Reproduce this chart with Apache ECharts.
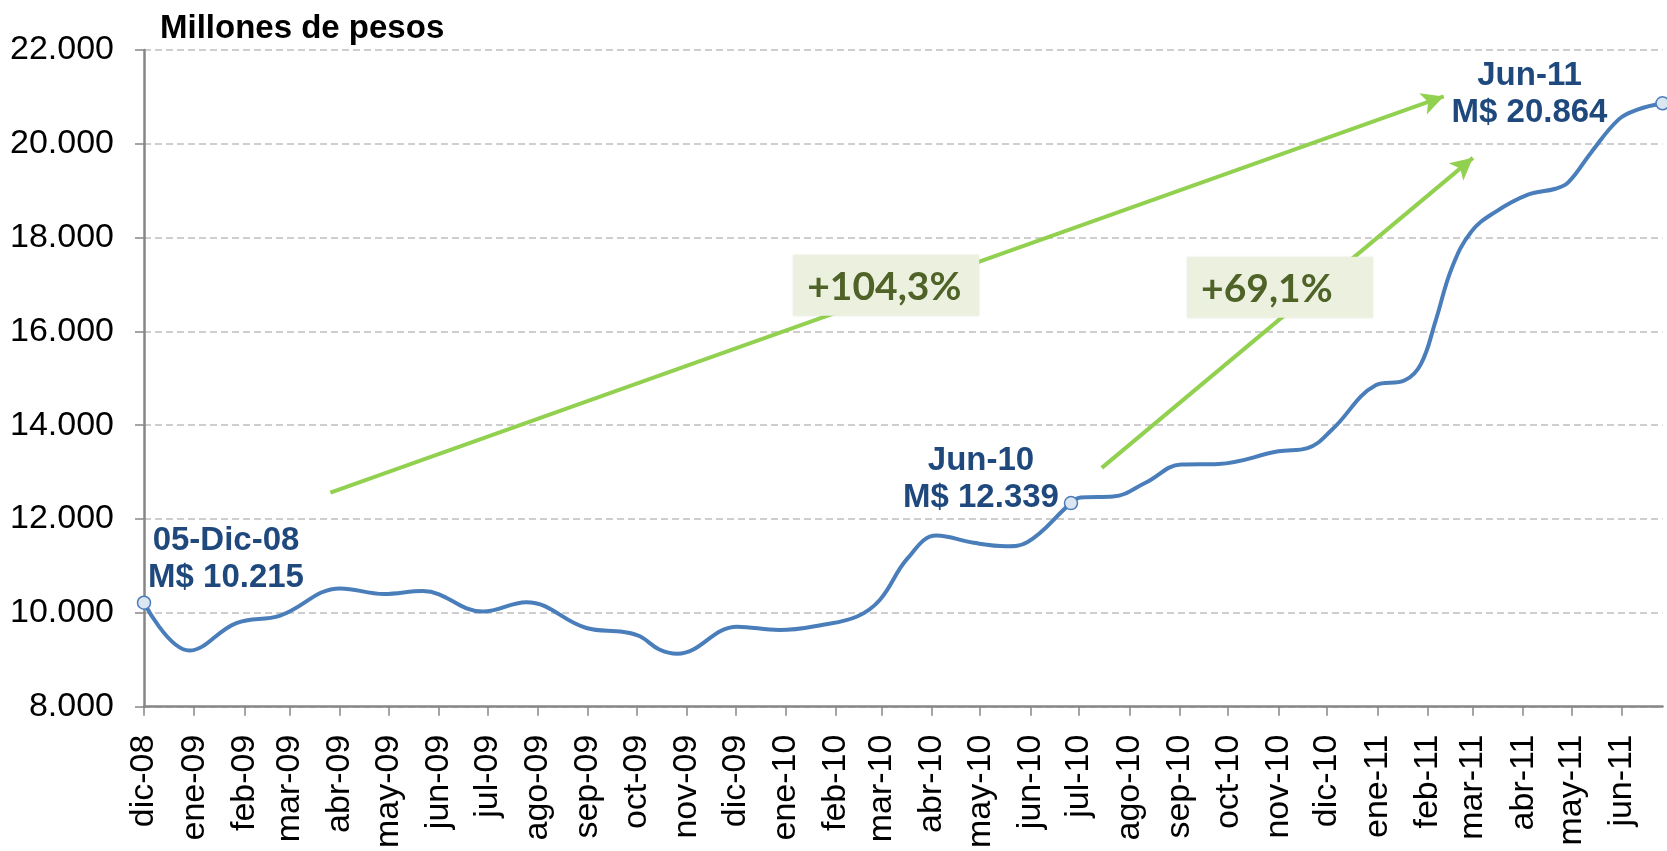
<!DOCTYPE html>
<html>
<head>
<meta charset="utf-8">
<script src="https://cdn.jsdelivr.net/npm/echarts@6/dist/echarts.min.js"></script>
<style>
  html, body { margin: 0; padding: 0; background: #fff; }
  #chart { width: 1667px; height: 851px; }
</style>
</head>
<body>
<div id="chart"></div>
<script>
// --- datos ---
var fechas = [
  '2008-12-05', '2009-01-02', '2009-01-31', '2009-02-27', '2009-04-05', '2009-05-02',
  '2009-05-26', '2009-07-02', '2009-07-29', '2009-09-04', '2009-09-27', '2009-10-07',
  '2009-10-19', '2009-10-30', '2009-12-06', '2010-01-01', '2010-01-28', '2010-02-18',
  '2010-03-04', '2010-03-21', '2010-04-08', '2010-05-01', '2010-05-21', '2010-06-03',
  '2010-06-30', '2010-07-06', '2010-07-26', '2010-08-15', '2010-09-06', '2010-09-29',
  '2010-11-05', '2010-11-23', '2010-12-08', '2011-01-04', '2011-01-22', '2011-02-01',
  '2011-02-10', '2011-02-20', '2011-03-04', '2011-03-19', '2011-04-08', '2011-04-25',
  '2011-05-03', '2011-05-17', '2011-06-03', '2011-06-15', '2011-06-30'
];
var valores = [
  10215, 9196, 9782, 9942, 10521, 10401,
  10464, 10027, 10225, 9676, 9591, 9499,
  9218, 9127, 9704, 9633, 9746, 9922,
  10274, 11155, 11647, 11493, 11421, 11506,
  12339, 12457, 12478, 12774, 13162, 13175,
  13443, 13513, 13902, 14852, 14958, 15309,
  16226, 17352, 18127, 18550, 18915, 19042,
  19183, 19817, 20521, 20733, 20864
];

// puntos destacados (indice en las series) y sus etiquetas
var hitos = [0, 24, 46];
var hitosNombre = ['05-Dic-08', 'Jun-10', 'Jun-11'];

// marcas del eje x (5 de cada mes)
var tickFechas = [
  '2008-12-05', '2009-01-05', '2009-02-05', '2009-03-05', '2009-04-05', '2009-05-05',
  '2009-06-05', '2009-07-05', '2009-08-05', '2009-09-05', '2009-10-05', '2009-11-05',
  '2009-12-05', '2010-01-05', '2010-02-05', '2010-03-05', '2010-04-05', '2010-05-05',
  '2010-06-05', '2010-07-05', '2010-08-05', '2010-09-05', '2010-10-05', '2010-11-05',
  '2010-12-05', '2011-01-05', '2011-02-05', '2011-03-05', '2011-04-05', '2011-05-05',
  '2011-06-05'
];
var tickEtiquetas = [
  'dic-08', 'ene-09', 'feb-09', 'mar-09', 'abr-09', 'may-09',
  'jun-09', 'jul-09', 'ago-09', 'sep-09', 'oct-09', 'nov-09',
  'dic-09', 'ene-10', 'feb-10', 'mar-10', 'abr-10', 'may-10',
  'jun-10', 'jul-10', 'ago-10', 'sep-10', 'oct-10', 'nov-10',
  'dic-10', 'ene-11', 'feb-11', 'mar-11', 'abr-11', 'may-11',
  'jun-11'
];

// flechas de variacion: [inicio, fin] en fecha / valor
var flechas = [
  [['2009-03-30', 12562], ['2011-02-15', 21010]],
  [['2010-07-19', 13090], ['2011-03-05', 19700]]
];
// cajas de porcentaje: centro en fecha / valor
var cajasTexto = ['+104,3%', '+69,1%'];
var cajasPos = [['2010-03-08', 16982], ['2010-11-06', 16940]];

(function() {
  // eje x en dias contados desde la primera fecha
  var DIA = 86400000;
  function utc(s) {
    var p = s.split('-');
    return Date.UTC(+p[0], +p[1] - 1, +p[2]);
  }
  var t0 = utc(fechas[0]);
  function dia(s) { return Math.round((utc(s) - t0) / DIA); }
  function miles(v) {
    return String(v).replace(/\B(?=(\d{3})+(?!\d))/g, '.');
  }

  var font = "'Liberation Sans', Arial, sans-serif";
  var azul = '#4A7EBB';
  var azulTexto = '#1F497D';
  var verde = '#92D050';
  var gris = '#868686';

  var tickDias = tickFechas.map(dia);
  var serie = fechas.map(function(f, i) { return [dia(f), valores[i]]; });

  var labelOffsets = [[82, -43], [-90, -24], [-133, -9]];
  var puntos = hitos.map(function(idx, k) {
    return {
      value: serie[idx],
      name: hitosNombre[k],
      label: { offset: labelOffsets[k] }
    };
  });

  var chart = echarts.init(document.getElementById('chart'), null, { renderer: 'canvas' });
  chart.setOption({
    animation: false,
    title: {
      text: 'Millones de pesos',
      left: 160, top: 12, padding: 0,
      textStyle: { fontFamily: font, fontSize: 33, fontWeight: 'bold', color: '#000' }
    },
    grid: { left: 144, right: 4.5, top: 50, bottom: 138.4 },
    xAxis: {
      type: 'value',
      min: 0,
      max: dia('2011-06-30'),
      axisLine: { onZero: false, lineStyle: { color: gris, width: 2.5 } },
      axisTick: { show: true, length: 9, lineStyle: { color: gris, width: 1.5 }, customValues: tickDias },
      splitLine: { show: false },
      axisLabel: {
        rotate: 90,
        margin: 28,
        fontFamily: font,
        fontSize: 34,
        color: '#000',
        customValues: tickDias,
        hideOverlap: false,
        formatter: function(v) {
          var i = tickDias.indexOf(Math.round(v));
          return i >= 0 ? tickEtiquetas[i] : '';
        }
      }
    },
    yAxis: {
      type: 'value',
      min: 8000, max: 22000, interval: 2000,
      axisLine: { show: true, lineStyle: { color: gris, width: 2.5 } },
      axisTick: { show: true, length: 9, lineStyle: { color: gris, width: 1.5 } },
      splitLine: { lineStyle: { color: '#BFBFBF', type: [7, 4], width: 1.5 } },
      axisLabel: { margin: 30, fontFamily: font, fontSize: 34, color: '#000', formatter: miles }
    },
    series: [
      {
        name: 'Patrimonio',
        type: 'line',
        data: serie,
        smooth: 0.4,
        showSymbol: false,
        z: 2,
        lineStyle: { color: azul, width: 4 },
        markLine: {
          z: 3,
          silent: true,
          symbol: ['none', 'arrow'],
          symbolSize: [17, 22],
          label: { show: false },
          lineStyle: { color: verde, width: 4, type: 'solid' },
          emphasis: { disabled: true },
          data: flechas.map(function(f) {
            return [{ coord: [dia(f[0][0]), f[0][1]] }, { coord: [dia(f[1][0]), f[1][1]] }];
          })
        },
        markPoint: {
          z: 4,
          silent: true,
          symbol: 'rect',
          symbolSize: [186, 61],
          itemStyle: { color: '#EBF1DE', shadowColor: 'rgba(0,0,0,0.12)', shadowBlur: 3 },
          label: {
            show: true,
            position: 'inside',
            align: 'left',
            offset: [-79, 2],
            formatter: '{b}',
            fontFamily: "Lato, 'Open Sans', sans-serif",
            fontWeight: 'bold',
            fontSize: 39,
            color: '#4F6228'
          },
          data: cajasPos.map(function(p, i) {
            return { name: cajasTexto[i], coord: [dia(p[0]), p[1]] };
          })
        }
      },
      {
        name: 'Hitos',
        type: 'scatter',
        data: puntos,
        z: 5,
        symbol: 'circle',
        symbolSize: 13,
        itemStyle: { color: '#DCE6F2', borderColor: azul, borderWidth: 1.5, opacity: 1 },
        label: {
          show: true,
          position: 'inside',
          align: 'center',
          verticalAlign: 'middle',
          lineHeight: 37,
          fontFamily: font,
          fontWeight: 'bold',
          fontSize: 33,
          color: azulTexto,
          formatter: function(p) {
            return p.name + '\nM$ ' + miles(p.value[1]);
          }
        }
      }
    ]
  });
  window.addEventListener('resize', function() { chart.resize(); });
})();
</script>
</body>
</html>
